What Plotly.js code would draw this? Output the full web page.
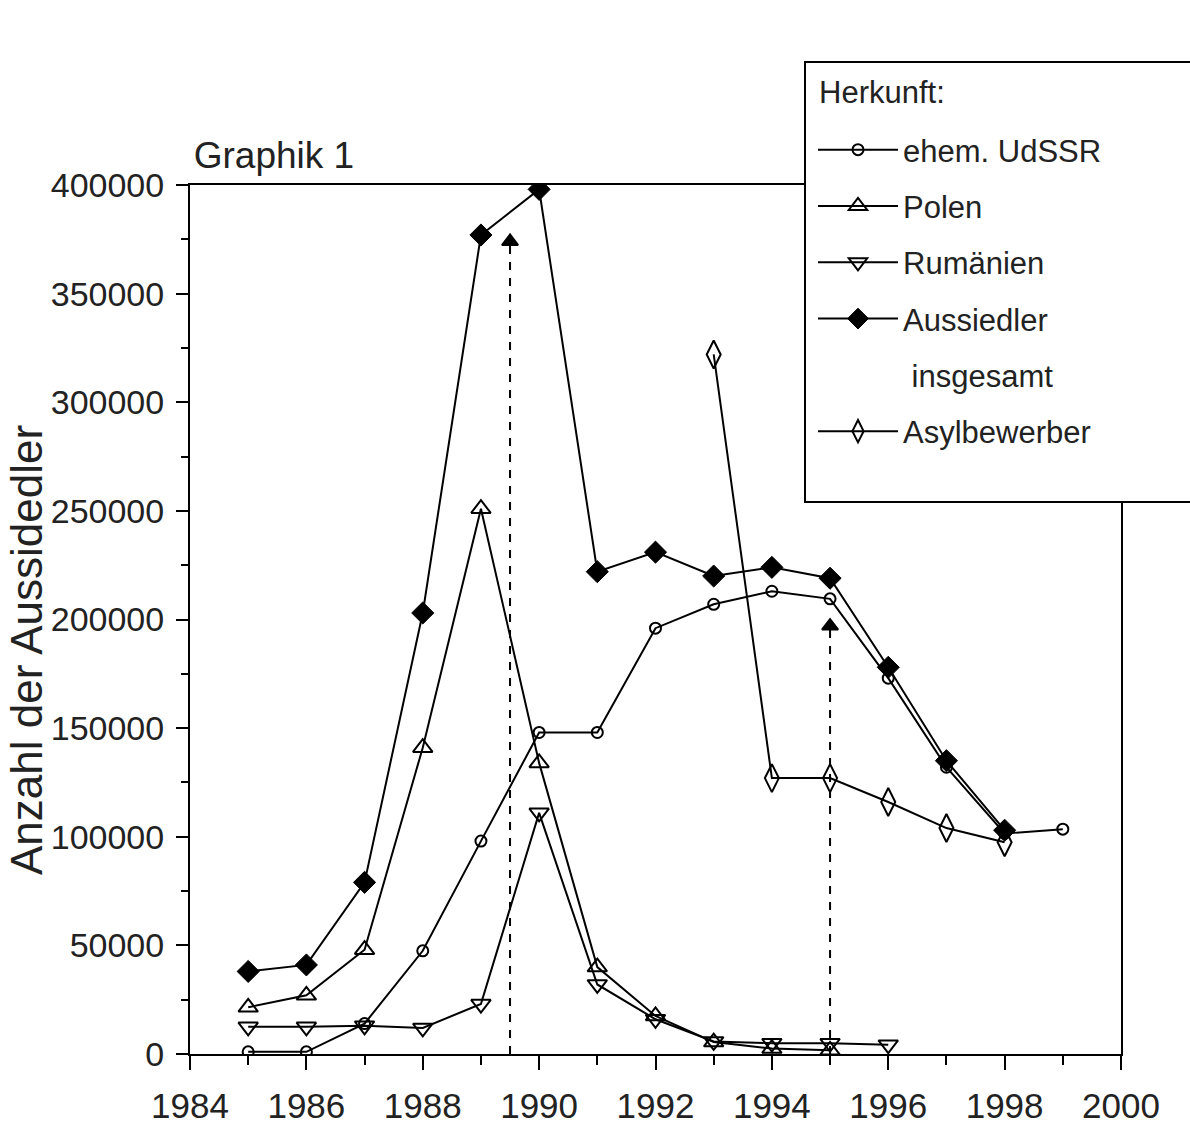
<!DOCTYPE html>
<html>
<head>
<meta charset="utf-8">
<script src="https://cdn.plot.ly/plotly-3.0.1.min.js"></script>
<style>html,body{margin:0;padding:0;background:#fff;}#chart{width:1190px;height:1126px;}</style>
</head>
<body>
<div id="chart"></div>
<script>
// ---- data ----
const yearsUdSSR = [1985,1986,1987,1988,1989,1990,1991,1992,1993,1994,1995,1996,1997,1998,1999];
const udssr      = [1000,1000,14000,47500,98000,148000,148000,196000,207000,213000,209500,173000,132000,101500,103500];

const yearsPolen = [1985,1986,1987,1988,1989,1990,1991,1992,1993,1994,1995];
const polen      = [21500,27000,48000,141000,251000,134000,40000,17500,5500,2500,1700];

const yearsRum   = [1985,1986,1987,1988,1989,1990,1991,1992,1993,1994,1995,1996];
const rumaenien  = [12500,12500,13000,12000,23000,111000,32000,16000,5800,5000,5000,4300];

const yearsGesamt = [1985,1986,1987,1988,1989,1990,1991,1992,1993,1994,1995,1996,1997,1998];
const gesamt      = [38000,41000,79000,203000,377000,398000,222000,231000,220000,224000,219000,178000,135000,103000];

const yearsAsyl = [1993,1994,1995,1996,1997,1998];
const asyl      = [322000,127000,127000,116000,104000,97500];

// dashed arrows (x position, tip value)
const arrowX    = [1989.5, 1995];
const arrowTipY = [374000, 197000];

const legendTitle = "Herkunft:";
const names = ["ehem. UdSSR","Polen","Rumänien","Aussiedler"," insgesamt","Asylbewerber"];

// ---- traces ----
const black = "#000";
const lineStyle = {color: black, width: 2};
const traces = [
  {x: yearsUdSSR, y: udssr, name: names[0], mode: "lines+markers", line: lineStyle, legendgroup:"a",
   marker: {symbol: "circle-open", size: 11, color: black, line:{width:2,color:black}}},
  {x: yearsPolen, y: polen, name: names[1], mode: "lines+markers", line: lineStyle, legendgroup:"b",
   marker: {symbol: "triangle-up-open", size: 17, color: black, line:{width:2,color:black}}},
  {x: yearsRum, y: rumaenien, name: names[2], mode: "lines+markers", line: lineStyle, legendgroup:"c",
   marker: {symbol: "triangle-down-open", size: 17, color: black, line:{width:2,color:black}}},
  {x: yearsGesamt, y: gesamt, name: names[3], mode: "lines+markers", line: lineStyle, legendgroup:"d",
   marker: {symbol: "diamond", size: 17, color: black, line:{width:1,color:black}}},
  {x: [null], y: [null], name: names[4], mode: "lines", line: {color: "rgba(0,0,0,0)", width: 0}, legendgroup:"e"},
  {x: yearsAsyl, y: asyl, name: names[5], mode: "lines+markers", line: lineStyle, legendgroup:"f",
   marker: {symbol: "diamond-tall-open", size: 20, color: black, line:{width:2,color:black}}}
];
arrowX.forEach((ax, i) => {
  traces.push({x: [ax, ax], y: [0, arrowTipY[i]], mode: "lines+markers", showlegend: false, hoverinfo: "skip",
    line: {color: black, width: 2, dash: "8px,8px"},
    marker: {symbol: ["circle","triangle-up"], size: [0, 14], color: "#000000", opacity: 1,
             line: {width: 2, color: "#000000"}},
    cliponaxis: false});
});

const tickFontX = {family: "Liberation Sans, Arial, sans-serif", size: 35, color: "#222"};
const tickFontY = {family: "Liberation Sans, Arial, sans-serif", size: 34, color: "#222"};
const legFont = {family: "Liberation Sans, Arial, sans-serif", size: 31, color: "#222"};

const layout = {
  width: 1190, height: 1126,
  margin: {l: 190, r: 69, t: 185, b: 72, pad: 0},
  paper_bgcolor: "#fff", plot_bgcolor: "#fff",
  showlegend: true,
  title: {text: "Graphik 1", x: 0.004, xref: "paper", xanchor: "left", yref: "container",
          y: 1 - 155/1126, yanchor: "middle",
          font: {family: "Liberation Sans, Arial, sans-serif", size: 37, color: "#222"}},
  xaxis: {range: [1984, 2000], dtick: 2, tick0: 1984, ticks: "outside", ticklen: 14, tickwidth: 2, tickcolor: black,
          showline: true, linewidth: 2, linecolor: black, mirror: true, showgrid: false, zeroline: false,
          tickfont: tickFontX, fixedrange: true, ticklabelstandoff: 6,
          minor: {dtick: 1, ticks: "outside", ticklen: 9, tickwidth: 2, tickcolor: black, showgrid: false}},
  yaxis: {range: [0, 400000], dtick: 50000, tick0: 0, ticks: "outside", ticklen: 12, tickwidth: 2, tickcolor: black,
          showline: true, linewidth: 2, linecolor: black, mirror: true, showgrid: false, zeroline: false,
          exponentformat: "none", separatethousands: false, tickformat: "d",
          tickfont: tickFontY, fixedrange: true, ticklabelstandoff: 5,
          minor: {dtick: 25000, ticks: "outside", ticklen: 7, tickwidth: 2, tickcolor: black, showgrid: false}},
  legend: {x: (813-190)/931, xanchor: "left", y: (1054-123)/869, yanchor: "top",
           bgcolor: "rgba(255,255,255,0)", borderwidth: 0,
           font: legFont,
           itemwidth: 80, tracegroupgap: 13, traceorder: "grouped", valign: "middle",
           itemclick: false, itemdoubleclick: false},
  shapes: [
    {type: "rect", xref: "paper", yref: "paper", layer: "above",
     x0: (805-190)/931, x1: (1200-190)/931, y0: (1054-502)/869, y1: (1054-62)/869,
     fillcolor: "#fff", line: {color: black, width: 2}}
  ],
  annotations: [
    {text: legendTitle, xref: "paper", yref: "paper", x: (817-190)/931, y: (1054-93)/869,
     xanchor: "left", yanchor: "middle", showarrow: false, font: legFont},
    {text: "Anzahl der Aussidedler", xref: "paper", yref: "paper", x: (26-190)/931, y: (1054-650)/869,
     xanchor: "center", yanchor: "middle", textangle: -90, showarrow: false,
     font: {family: "Liberation Sans, Arial, sans-serif", size: 44, color: "#222"}}
  ]
};

Plotly.newPlot("chart", traces, layout, {displayModeBar: false, staticPlot: true});
</script>
</body>
</html>
